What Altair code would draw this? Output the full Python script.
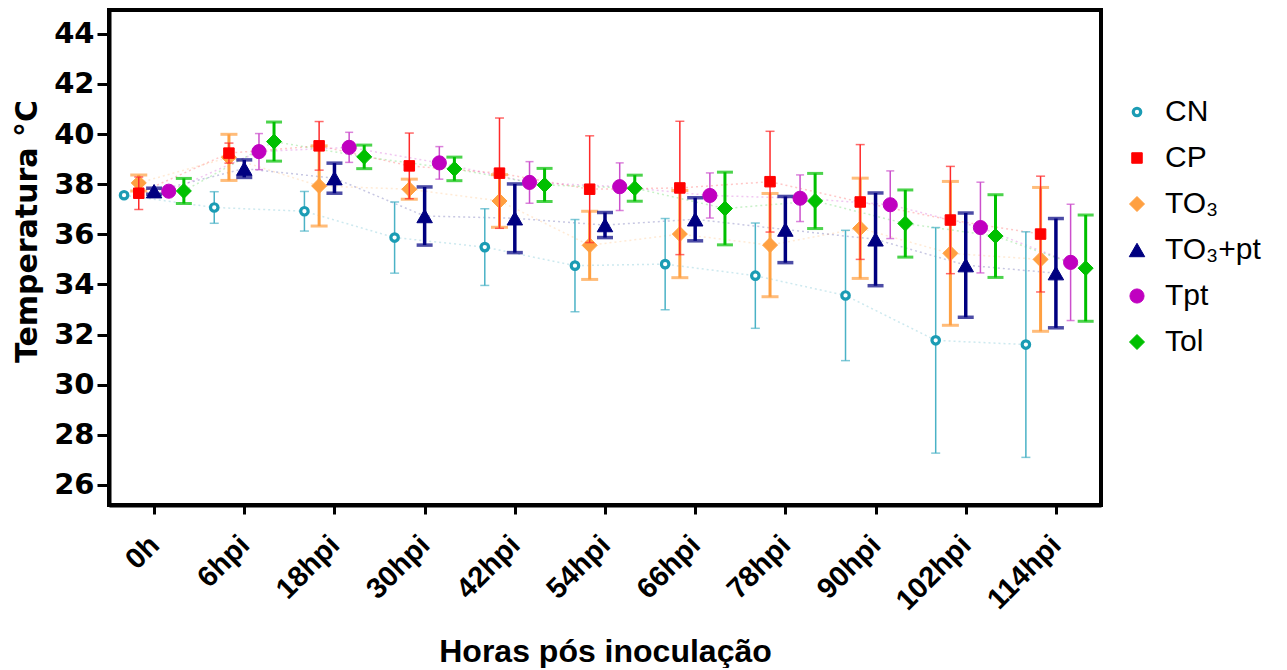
import altair as alt
import pandas as pd

categories = ["0h", "6hpi", "18hpi", "30hpi", "42hpi", "54hpi", "66hpi", "78hpi", "90hpi", "102hpi", "114hpi"]
series = ["CN", "CP", "TO₃", "TO₃+pt", "Tpt", "Tol"]

cn_mean = [37.56, 37.07, 36.92, 35.87, 35.49, 34.75, 34.81, 34.35, 33.56, 31.77, 31.60]
cn_sd = [0.10, 0.63, 0.79, 1.42, 1.53, 1.84, 1.82, 2.10, 2.60, 4.50, 4.50]
cp_mean = [37.64, 39.24, 39.53, 38.73, 38.44, 37.80, 37.85, 38.10, 37.29, 36.57, 36.01]
cp_sd = [0.65, 0.40, 0.97, 1.31, 2.20, 2.13, 2.66, 2.01, 2.29, 2.14, 2.31]
to3_mean = [38.05, 39.07, 37.93, 37.80, 37.33, 35.56, 36.01, 35.57, 36.24, 35.24, 35.00]
to3_sd = [0.32, 0.92, 1.60, 0.40, 1.05, 1.36, 1.74, 2.06, 2.00, 2.87, 2.87]
to3pt_mean = [37.72, 38.62, 38.24, 36.73, 36.64, 36.37, 36.60, 36.19, 35.80, 34.77, 34.45]
to3pt_sd = [0.12, 0.35, 0.60, 1.16, 1.37, 0.50, 0.86, 1.32, 1.85, 2.08, 2.18]
tpt_mean = [37.72, 39.30, 39.47, 38.85, 38.07, 37.90, 37.55, 37.44, 37.18, 36.27, 34.88]
tpt_sd = [0.12, 0.72, 0.60, 0.65, 0.83, 0.95, 0.90, 0.93, 1.35, 1.81, 2.32]
tol_mean = [37.73, 39.70, 39.09, 38.61, 37.97, 37.84, 37.03, 37.33, 36.43, 35.93, 34.65]
tol_sd = [0.50, 0.78, 0.47, 0.47, 0.66, 0.52, 1.45, 1.10, 1.34, 1.65, 2.12]

means = {"CN": cn_mean, "CP": cp_mean, "TO₃": to3_mean, "TO₃+pt": to3pt_mean, "Tpt": tpt_mean, "Tol": tol_mean}
sds = {"CN": cn_sd, "CP": cp_sd, "TO₃": to3_sd, "TO₃+pt": to3pt_sd, "Tpt": tpt_sd, "Tol": tol_sd}

rows = []
for s in series:
    for i, (m, d) in enumerate(zip(means[s], sds[s])):
        rows.append({"series": s, "idx": i, "mean": m, "sd": d})
df = pd.DataFrame(rows)

# styling
offsets = {"CN": -0.333, "CP": -0.17, "TO₃": -0.17, "TO₃+pt": 0.0, "Tpt": 0.163, "Tol": 0.33}
mark_colors = ["#1b9cb4", "#ff0000", "#ffa041", "#000080", "#c000c0", "#00c000"]
fill_colors = ["#ffffff", "#ff0000", "#ffa041", "#000080", "#c000c0", "#00c000"]
shapes = ["circle", "square", "diamond", "triangle-up", "circle", "diamond"]
sizes = [56, 110, 225, 240, 200, 225]
stroke_widths = [3.2, 1, 1, 1, 1, 1]
err_style = {
    "CN": ("#4ab2c6", 1.5, 9),
    "CP": ("#ff2a2a", 1.5, 9),
    "TO₃": ("#ffa041", 3, 17),
    "TO₃+pt": ("#000080", 3.5, 16),
    "Tpt": ("#cc4fcc", 1.5, 8),
    "Tol": ("#00c000", 3, 16),
}
line_colors = dict(zip(series, mark_colors))

off_expr = " : ".join(f"datum.series === '{s}' ? {o}" for s, o in offsets.items()) + " : 0"
label_expr = "[" + ",".join(f"'{c}'" for c in categories) + "][datum.value]"

base = alt.Chart(df).transform_calculate(
    pos=f"datum.idx + ({off_expr})",
    lo="datum.mean - datum.sd",
    hi="datum.mean + datum.sd",
)

FONT = "Liberation Sans"
YFONT = "DejaVu Sans"

x_enc = alt.X(
    "pos:Q",
    scale=alt.Scale(domain=[-0.5, 10.5], nice=False, zero=False),
    axis=alt.Axis(
        values=list(range(11)),
        labelExpr=label_expr,
        title="Horas pós inoculação",
        labelAngle=315,
        labelAlign="right",
        labelBaseline="middle",
        labelFontSize=29,
        labelPadding=26,
        tickSize=9,
        titleFontSize=32,
        titleY=156,
        titleBaseline="alphabetic",
        labelFlush=False,
        labelOverlap=False,
    ),
)
y_scale = alt.Scale(domain=[25.2, 44.95], nice=False, zero=False)
y_axis = alt.Axis(
    values=list(range(26, 45, 2)),
    title="Temperatura °C",
    labelFont=YFONT,
    titleFont=YFONT,
    labelFontSize=29,
    labelPadding=3,
    tickSize=12,
    titleFontSize=30,
    titleAngle=270,
    titleX=-73,
    titleY=221,
    titleAlign="center",
    titleBaseline="alphabetic",
    labelFlush=False,
    labelOverlap=False,
)

legend = alt.Legend(
    title=None,
    orient="none",
    legendX=1013,
    legendY=87,
    labelFontSize=30,
    labelFont=FONT,
    labelFontWeight="normal",
    labelColor="black",
    labelOffset=13,
    rowPadding=16,
    symbolOpacity=1,
)

shape_enc = alt.Shape("series:N", scale=alt.Scale(domain=series, range=shapes), legend=legend)
stroke_enc = alt.Stroke("series:N", scale=alt.Scale(domain=series, range=mark_colors), legend=legend)
fill_enc = alt.Fill("series:N", scale=alt.Scale(domain=series, range=fill_colors), legend=legend)
size_enc = alt.Size("series:N", scale=alt.Scale(type="ordinal", domain=series, range=sizes), legend=legend)
sw_enc = alt.StrokeWidth("series:N", scale=alt.Scale(type="ordinal", domain=series, range=stroke_widths), legend=legend)

layers = []
for s in series:
    layers.append(
        base.transform_filter(alt.datum.series == s)
        .mark_line(color=line_colors[s], strokeDash=[2, 3], strokeWidth=1.5, opacity=0.22)
        .encode(x=x_enc, y=alt.Y("mean:Q", scale=y_scale, axis=y_axis))
    )

draw_order = ["CN", "TO₃", "CP", "TO₃+pt", "Tpt", "Tol"]
for s in draw_order:
    col, th, cap = err_style[s]
    layers.append(
        base.transform_filter(alt.datum.series == s)
        .mark_errorbar(color=col, thickness=th, ticks={"size": cap, "thickness": th, "color": col})
        .encode(x=x_enc, y=alt.Y("lo:Q", scale=y_scale, axis=y_axis), y2="hi:Q")
    )
    layers.append(
        base.transform_filter(alt.datum.series == s)
        .mark_point(opacity=1)
        .encode(
            x=x_enc,
            y=alt.Y("mean:Q", scale=y_scale, axis=y_axis),
            shape=shape_enc,
            stroke=stroke_enc,
            fill=fill_enc,
            size=size_enc,
            strokeWidth=sw_enc,
        )
    )

chart = (
    alt.layer(*layers)
    .properties(
        width=992,
        height=495,
        padding={"left": 101, "top": 2, "right": 178, "bottom": 163},
        autosize=alt.AutoSizeParams(type="none"),
    )
    .configure_view(stroke="black", strokeWidth=4)
    .configure_axis(
        grid=False,
        domainColor="black",
        domainWidth=4,
        tickColor="black",
        tickWidth=3,
        labelFont=FONT,
        titleFont=FONT,
        labelFontWeight="bold",
        titleFontWeight="bold",
        labelColor="black",
        titleColor="black",
    )
)

chart.save("out.html", embed_options={"renderer": "svg", "actions": False})
